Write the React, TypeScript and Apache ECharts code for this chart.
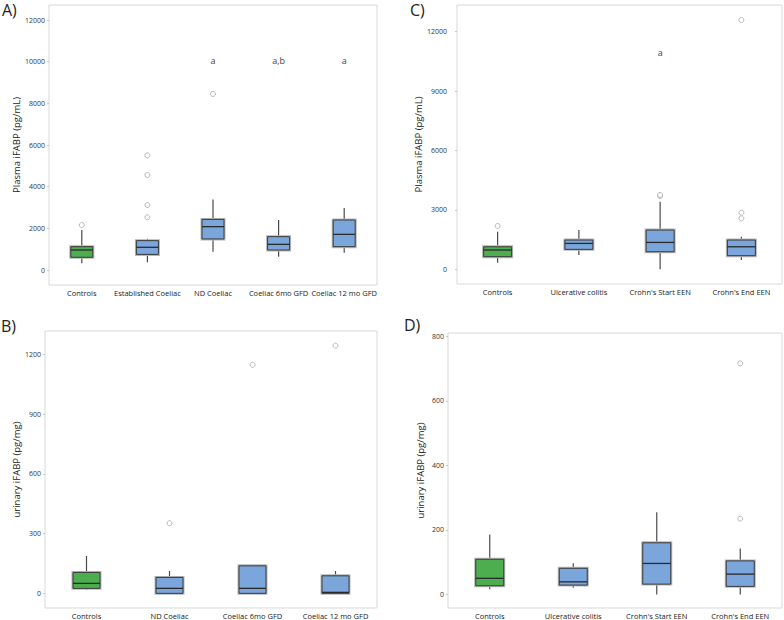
import React, { useEffect, useRef } from "react";
import * as echarts from "echarts";

// ---------- data ----------
const catsA = ["Controls", "Established Coeliac", "ND Coeliac", "Coeliac 6mo GFD", "Coeliac 12 mo GFD"];
// [min, q1, median, q3, max]
const boxA = [
  [320, 610, 960, 1120, 1920],
  [370, 750, 1090, 1410, 1500],
  [880, 1490, 2080, 2430, 3390],
  [640, 960, 1230, 1600, 2400],
  [830, 1120, 1710, 2400, 2980],
];
const outA = [[0, 2160], [1, 5500], [1, 4560], [1, 3120], [1, 2530], [2, 8450]];
const letterA = [[2, 10050], [3, 10050], [4, 10050]];
const letterTextA = ["a", "a,b", "a"];
const ticksA = [0, 2000, 4000, 6000, 8000, 10000, 12000];

const catsC = ["Controls", "Ulcerative colitis", "Crohn's Start EEN", "Crohn's End EEN"];
const boxC = [
  [335, 640, 975, 1140, 1900],
  [720, 1010, 1310, 1480, 1985],
  [0, 890, 1360, 1985, 3415],
  [470, 690, 1140, 1480, 1650],
];
const outC = [[0, 2190], [2, 3700], [2, 3760], [3, 12590], [3, 2860], [3, 2575]];
const letterC = [[2, 10940]];
const letterTextC = ["a"];
const ticksC = [0, 3000, 6000, 9000, 12000];

const catsB = ["Controls", "ND Coeliac", "Coeliac 6mo GFD", "Coeliac 12 mo GFD"];
const boxB = [
  [17, 25, 50, 105, 188],
  [0, 0, 25, 80, 112],
  [0, 0, 25, 138, 138],
  [0, 0, 5, 88, 112],
];
const outB = [[1, 352], [2, 1147], [3, 1243]];
const ticksB = [0, 300, 600, 900, 1200];

const catsD = ["Controls", "Ulcerative colitis", "Crohn's Start EEN", "Crohn's End EEN"];
const boxD = [
  [16, 27, 50, 109, 186],
  [21, 29, 39, 81, 97],
  [0, 32, 96, 160, 255],
  [0, 25, 63, 104, 142],
];
const outD = [[3, 716], [3, 235]];
const ticksD = [0, 200, 400, 600, 800];

// ---------- styles ----------
const FONT = "'Open Sans', 'Noto Sans', sans-serif";
const GREEN = "#4cae4f";
const BLUE = "#7aa6dc";

const panels = [
  { cats: catsA, box: boxA, out: outA, letters: letterA, letterText: letterTextA, ticks: ticksA,
    grid: { left: 49, top: 5, width: 328, height: 280 }, min: -720, max: 12720, bw: 22,
    name: "Plasma iFABP (pg/mL)", nameGap: 27, labelMargin: 4 },
  { cats: catsC, box: boxC, out: outC, letters: letterC, letterText: letterTextC, ticks: ticksC,
    grid: { left: 457, top: 5, width: 325, height: 279 }, min: -740, max: 13350, bw: 28,
    name: "Plasma iFABP (pg/mL)", nameGap: 30, labelMargin: 10 },
  { cats: catsB, box: boxB, out: outB, letters: [], letterText: [], ticks: ticksB,
    grid: { left: 45, top: 331, width: 332, height: 278 }, min: -73.5, max: 1316.5, bw: 27,
    name: "urinary iFABP (pg/mg)", nameGap: 23, labelMargin: 4 },
  { cats: catsD, box: boxD, out: outD, letters: [], letterText: [], ticks: ticksD,
    grid: { left: 448, top: 333, width: 334, height: 276 }, min: -42, max: 810, bw: 28,
    name: "urinary iFABP (pg/mg)", nameGap: 23, labelMargin: 4 },
];

export default function App() {
  const ref = useRef<HTMLDivElement>(null);
  useEffect(() => {
    if (!ref.current) return;
    const chart = echarts.init(ref.current, undefined, { renderer: "svg" });

    const grid: any[] = [];
    const xAxis: any[] = [];
    const yAxis: any[] = [];
    const series: any[] = [];

    panels.forEach((p, i) => {
      grid.push({ ...p.grid, show: true, borderColor: "#d9d9d9", borderWidth: 1, backgroundColor: "transparent", containLabel: false });
      xAxis.push({
        type: "category", gridIndex: i, data: p.cats,
        axisLine: { show: false, lineStyle: { color: "#222" } }, axisTick: { show: false },
        axisLabel: { interval: 0, fontSize: 7.5, color: "#1a1a1a", margin: 4, fontFamily: FONT },
        splitLine: { show: false },
      });
      yAxis.push({
        type: "value", gridIndex: i, min: p.min, max: p.max,
        name: p.name, nameLocation: "middle", nameGap: p.nameGap,
        nameTextStyle: { fontSize: 9.5, color: "#222", fontFamily: FONT },
        axisLine: { show: false, lineStyle: { color: "#333" } },
        axisTick: { show: true, length: 2, customValues: p.ticks, lineStyle: { color: "#c8c8c8" } },
        axisLabel: { customValues: p.ticks, fontSize: 7, color: "#333", margin: p.labelMargin, fontFamily: FONT,
          formatter: (v: number) => String(Math.round(v)) },
        splitLine: { show: false },
      });
      const bw = p.bw;
      series.push({
        type: "custom", xAxisIndex: i, yAxisIndex: i,
        data: p.box.map((b, k) => [k, ...b]),
        encode: { x: 0, y: [1, 2, 3, 4, 5] },
        clip: false,
        renderItem: (params: any, api: any) => {
          const x = api.value(0);
          const pMin = api.coord([x, api.value(1)]);
          const pQ1 = api.coord([x, api.value(2)]);
          const pMed = api.coord([x, api.value(3)]);
          const pQ3 = api.coord([x, api.value(4)]);
          const pMax = api.coord([x, api.value(5)]);
          const cx = pMed[0];
          const fill = params.dataIndex === 0 ? GREEN : BLUE;
          const wl = { stroke: "#4a4a4a", lineWidth: 1.2 };
          return {
            type: "group",
            children: [
              { type: "line", shape: { x1: cx, y1: pQ3[1], x2: cx, y2: pMax[1] }, style: wl },
              { type: "line", shape: { x1: cx, y1: pQ1[1], x2: cx, y2: pMin[1] }, style: wl },
              { type: "rect", shape: { x: cx - bw / 2, y: pQ3[1], width: bw, height: Math.max(pQ1[1] - pQ3[1], 0.5) },
                style: { fill: "none", stroke: "#b5b5b5", lineWidth: 3 } },
              { type: "rect", shape: { x: cx - bw / 2, y: pQ3[1], width: bw, height: Math.max(pQ1[1] - pQ3[1], 0.5) },
                style: { fill, stroke: "#3a3a3a", lineWidth: 1 } },
              { type: "line", shape: { x1: cx - bw / 2, y1: pMed[1], x2: cx + bw / 2, y2: pMed[1] },
                style: { stroke: "#2a2a2a", lineWidth: 1.3 } },
            ],
          };
        },
        z: 2,
      });
      series.push({
        type: "scatter", xAxisIndex: i, yAxisIndex: i, data: p.out,
        symbol: "circle", symbolSize: 5, clip: false,
        itemStyle: { color: "#ffffff", borderColor: "#a8a8a8", borderWidth: 1 },
        z: 3,
      });
      if (p.letters.length) {
        const texts = p.letterText;
        series.push({
          type: "custom", xAxisIndex: i, yAxisIndex: i, data: p.letters,
          encode: { x: 0, y: 1 }, clip: false,
          renderItem: (params: any, api: any) => {
            const pt = api.coord([api.value(0), api.value(1)]);
            return {
              type: "text", x: pt[0], y: pt[1],
              style: { text: texts[params.dataIndex], fill: "#444", fontSize: 9, fontFamily: FONT,
                align: "center", verticalAlign: "middle", textAlign: "center", textVerticalAlign: "middle" },
            };
          },
          z: 3,
        });
      }
    });

    const lbl = (text: string, x: number, y: number) => ({
      type: "text", left: x, top: y,
      style: { text, fontSize: 16, fill: "#222", fontFamily: FONT },
    });

    chart.setOption({
      animation: false,
      backgroundColor: "#ffffff",
      textStyle: { fontFamily: FONT },
      grid, xAxis, yAxis, series,
      graphic: [lbl("A)", 2, 2), lbl("C)", 410, 2), lbl("B)", 1, 318), lbl("D)", 404, 317)],
    });
    return () => chart.dispose();
  }, []);
  return <div ref={ref} style={{ position: "fixed", left: 0, top: 0, width: 784, height: 620 }} />;
}
